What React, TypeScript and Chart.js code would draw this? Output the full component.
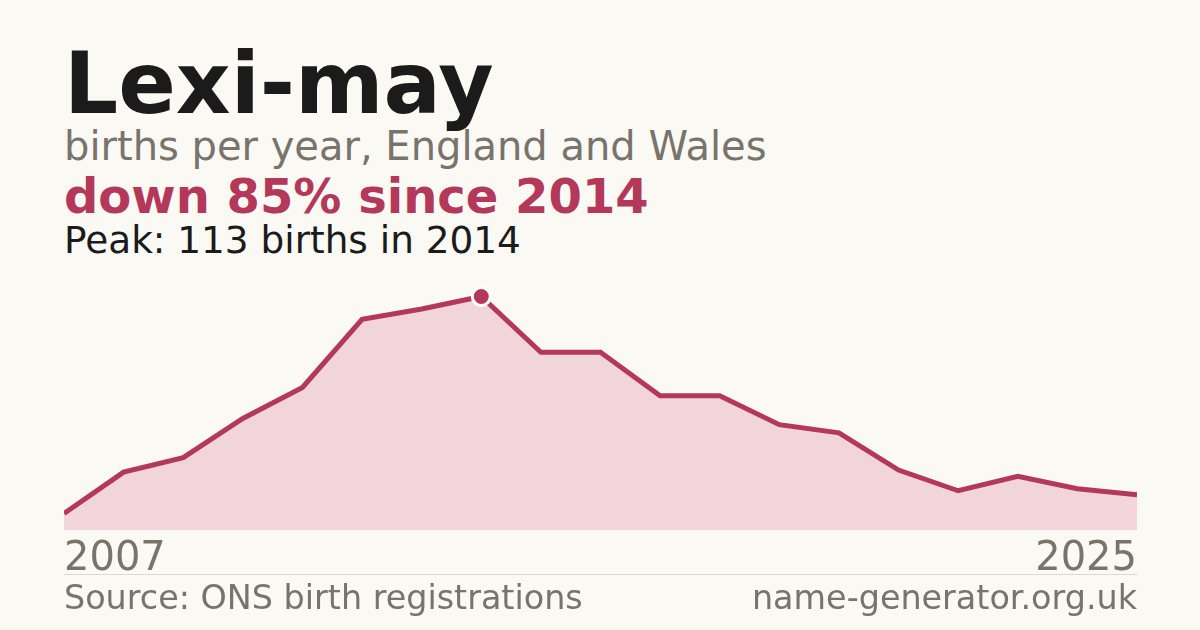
import React, { useEffect, useRef } from 'react';
import { Chart } from 'chart.js/auto';

const years = ['2007', '2008', '2009', '2010', '2011', '2012', '2013', '2014', '2015', '2016', '2017', '2018', '2019', '2020', '2021', '2022', '2023', '2024', '2025'];
const births = [8, 28, 35, 54, 69, 102, 107, 113, 86, 86, 65, 65, 51, 47, 29, 19, 26, 20, 17];
const peakYear = '2014';
const yMax = 121;

const BG = '#faf9f4';
const RED = '#b3385a';
const FILL = '#f1d5db';
const GREY = '#78746c';
const INK = '#1b1b1b';
const FONT = '"DejaVu Sans", sans-serif';

const BirthsChart: React.FC = () => {
  const ref = useRef<HTMLCanvasElement | null>(null);
  const instance = useRef<Chart | null>(null);

  useEffect(() => {
    if (!ref.current) return;
    const ctx = ref.current.getContext('2d');
    if (!ctx) return;
    const peakIdx = years.indexOf(peakYear);
    instance.current = new Chart(ctx, {
      type: 'line',
      data: {
        labels: years,
        datasets: [
          {
            data: births,
            borderColor: RED,
            borderWidth: 5,
            backgroundColor: FILL,
            fill: 'origin',
            tension: 0,
            pointRadius: (c: any) => (c.dataIndex === peakIdx ? 9 : 0),
            pointBackgroundColor: RED,
            pointBorderColor: '#ffffff',
            pointBorderWidth: 3,
            pointHoverRadius: 0
          }
        ]
      },
      options: {
        responsive: true,
        maintainAspectRatio: false,
        animation: false,
        layout: { padding: 0, autoPadding: false },
        plugins: { legend: { display: false }, tooltip: { enabled: false } },
        scales: {
          y: { display: false, min: 0, max: yMax },
          x: {
            offset: false,
            grid: { display: false, drawTicks: false },
            border: { display: false },
            ticks: {
              autoSkip: false,
              maxRotation: 0,
              align: 'inner',
              padding: 0,
              color: GREY,
              font: { family: FONT, size: 40, lineHeight: 1.5 },
              callback: (_v: any, i: number) => (i === 0 || i === years.length - 1 ? years[i] : '')
            }
          }
        }
      }
    });
    return () => { if (instance.current) instance.current.destroy(); };
  }, []);

  return (
    <div style={{ position: 'absolute', left: 64, top: 280, width: 1073, height: 310 }}>
      <canvas ref={ref} />
    </div>
  );
};

const App: React.FC = () => {
  useEffect(() => {
    document.body.style.margin = '0';
    document.body.style.background = BG;
  }, []);

  const text = (top: number, size: number, color: string, bold = false): React.CSSProperties => ({
    position: 'absolute',
    top,
    left: 64,
    fontFamily: FONT,
    fontSize: size,
    lineHeight: 1,
    fontWeight: bold ? 700 : 400,
    color,
    whiteSpace: 'nowrap'
  });

  return (
    <div style={{ position: 'absolute', left: 0, top: 0, width: 1200, height: 630, background: BG, overflow: 'hidden' }}>
      <div style={text(41, 85, INK, true)}>Lexi-may</div>
      <div style={text(126, 40, GREY)}>births per year, England and Wales</div>
      <div style={text(172, 48, RED, true)}>down 85% since 2014</div>
      <div style={text(222, 37.4, INK)}>Peak: 113 births in 2014</div>
      <BirthsChart />
      <div style={{ position: 'absolute', left: 64, top: 574, width: 1073, height: 1, background: '#dcd9d2' }} />
      <div style={text(581, 33.4, GREY)}>Source: ONS birth registrations</div>
      <div style={{ ...text(581, 33.4, GREY), left: 'auto', right: 63 }}>name-generator.org.uk</div>
    </div>
  );
};

export default App;
